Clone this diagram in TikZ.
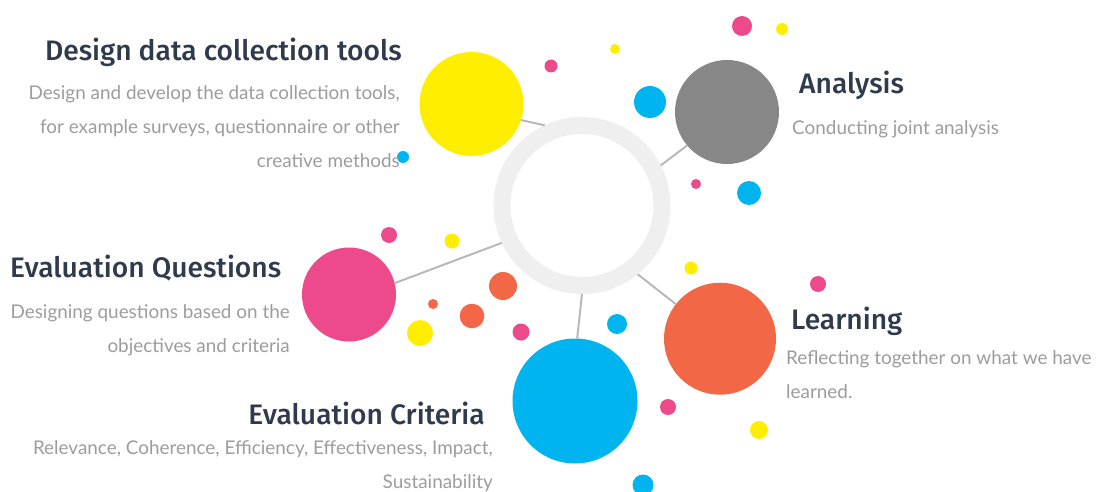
\documentclass[tikz,border=0pt]{standalone}
\usepackage{fontspec}
\setmainfont{Lato}
\newfontfamily\headfont{Fira Sans Medium}
\definecolor{headcol}{HTML}{2F3A4D}
\definecolor{bodycol}{HTML}{9C9C9C}
\definecolor{ringcol}{HTML}{EFEFEF}
\definecolor{linkcol}{HTML}{B8B8B8}
\definecolor{cyel}{HTML}{FFEE00}
\definecolor{cgray}{HTML}{878787}
\definecolor{cpink}{HTML}{EC4A8B}
\definecolor{corange}{HTML}{F26745}
\definecolor{cblue}{HTML}{00B5EF}
\tikzset{
  bubble/.style={circle, inner sep=0pt, outer sep=0pt, minimum size=#1},
  hubring/.style={circle, draw=ringcol, line width=17pt, fill=white, minimum size=160pt, inner sep=0pt},
  link/.style={draw=linkcol, line width=2pt},
  head/.style={text=headcol, inner sep=0pt, font=\headfont\fontsize{28.2}{32}\selectfont},
  body/.style={text=bodycol, inner sep=0pt, font=\fontsize{18.9}{33.8}\selectfont},
}
\begin{document}
\begin{tikzpicture}[x=1pt, y=-1pt]
\useasboundingbox (0,0) rectangle (1097,492);

% scattered dots
\foreach \px/\py/\r/\c in {
  742/26/10/cpink, 782/29/6/cyel, 615/49/5/cyel, 551/66/6.5/cpink,
  650/102/16/cblue, 403/157/6/cblue, 696/184/5/cpink, 749/193/12/cblue,
  389/235/8/cpink, 452/241/7.5/cyel, 691/268/6.5/cyel, 818/284/8/cpink,
  503/286/14/corange, 433/304/5/corange, 472/316/12.3/corange,
  420/333/13/cyel, 521/332/8.5/cpink, 617/324/10/cblue,
  668/407/8/cpink, 759/430/9/cyel, 643/485/10.5/cblue}
  \fill[\c] (\px,\py) circle[radius=\r pt];

% central ring
\node[hubring] (hub) at (582,205.5) {};

% main bubbles
\node[bubble=104pt, fill=cyel]    (design)   at (471.5,104) {};
\node[bubble=104pt, fill=cgray]   (analysis) at (727,112)   {};
\node[bubble=94pt,  fill=cpink]   (question) at (349,294.5) {};
\node[bubble=112pt, fill=corange] (learn)    at (720,338.7) {};
\node[bubble=125pt, fill=cblue]   (criteria) at (575,401)   {};

% spokes
\draw[link] (design.-18)   -- (hub.115);
\draw[link] (analysis.220) -- (hub.27);
\draw[link] (question.14)  -- (hub.205);
\draw[link] (criteria.88.6) -- (hub.270.2);
\draw[link] (learn.142)    -- (hub.-51);

% labels (multi-line blocks are placed by the baseline of their last line)
\node[head, anchor=base east] (t1) at (402,61) {Design data collection tools};
\node[body, anchor=base east, align=right] (b1) at (400,167)
  {Design and develop the data collection tools,\\for example surveys, questionnaire or other\\creative methods};

\node[head, anchor=base west] (t2) at (10,277) {Evaluation Questions};
\node[body, anchor=base east, align=right] (b2) at (290,352)
  {Designing questions based on the\\objectives and criteria};

\node[head, anchor=base east] (t3) at (485,424) {Evaluation Criteria};
\node[body, anchor=base east, align=right] (b3) at (493,488.5)
  {Relevance, Coherence, Efficiency, Effectiveness, Impact,\\Sustainability};

\node[head, anchor=base west] (t4) at (799,94) {Analysis};
\node[body, anchor=base west] (b4) at (792,135) {Conducting joint analysis};

\node[head, anchor=base west] (t5) at (791,329) {Learning};
\node[body, anchor=base west, align=left] (b5) at (786,398)
  {Reflecting together on what we have\\learned.};
\end{tikzpicture}
\end{document}
